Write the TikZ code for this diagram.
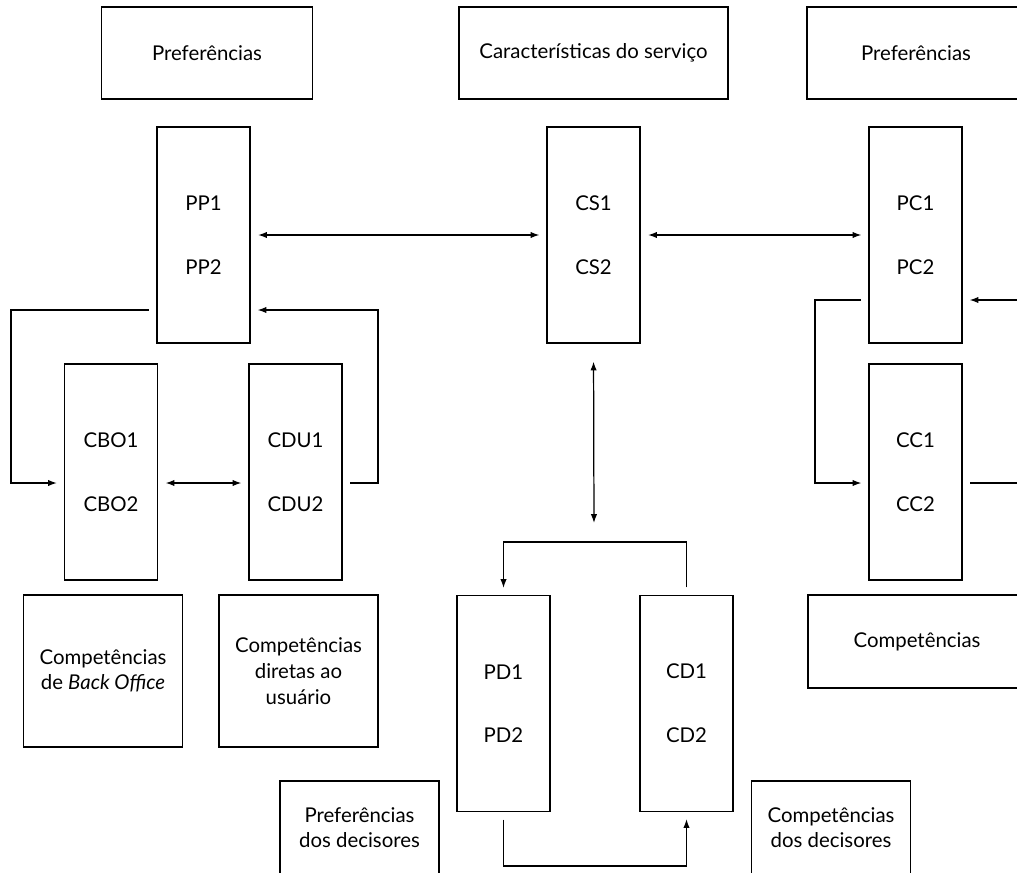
\documentclass[tikz,border=0pt]{standalone}
\usepackage{fontspec}
\setmainfont{Lato}
\usetikzlibrary{arrows.meta}

\begin{document}
\begin{tikzpicture}[x=0.02cm, y=-0.02cm, font=\fontsize{11.6}{14.6}\selectfont,
  box/.style={draw, line width=0.7pt, align=center, inner sep=0pt},
  topbox/.style={box, minimum height=1.84cm},
  tallbox/.style={box, minimum width=1.86cm, minimum height=4.32cm},
  sqbox/.style={box, minimum width=3.18cm, minimum height=3.04cm},
  lowbox/.style={box, minimum width=3.18cm, minimum height=1.86cm},
  link/.style={line width=0.7pt, shorten <=0.15cm, shorten >=0.14cm},
  arr/.style={link, -{Latex[length=5pt, width=3.6pt]}},
  darr/.style={link, {Latex[length=5pt, width=3.6pt]}-{Latex[length=5pt, width=3.6pt]}}]
\useasboundingbox (0,0) rectangle (1017,872);
\clip (0,0) rectangle (1017,872);
% ================= top row =================
\node[topbox, minimum width=4.22cm] (prefL) at (207,53) {Preferências};
\node[topbox, minimum width=5.38cm] (carac) at (593.5,53) {Características do serviço};
\node[topbox, minimum width=4.36cm] (prefR) at (916,53) {Preferências};
% ================= tall boxes =================
\node[tallbox] (pp) at (203.5,235) {PP1\\[0.76cm]PP2};
\node[tallbox] (cs) at (593.5,235) {CS1\\[0.76cm]CS2};
\node[tallbox] (pc) at (915.5,235) {PC1\\[0.76cm]PC2};
\node[tallbox] (cbo) at (111,472) {CBO1\\[0.76cm]CBO2};
\node[tallbox] (cdu) at (295.5,472) {CDU1\\[0.76cm]CDU2};
\node[tallbox] (cc) at (915.5,472) {CC1\\[0.76cm]CC2};
\node[tallbox] (pd) at (503.5,703.5) {PD1\\[0.76cm]PD2};
\node[tallbox] (cd) at (686.5,703.5) {CD1\\[0.76cm]CD2};
% ================= description boxes =================
\node[sqbox] (compBO) at (103,671) {Competências\\de \textit{Back Office}};
\node[sqbox] (compDU) at (298.5,671) {Competências\\diretas ao\\usuário};
\node[lowbox, minimum width=4.36cm] (compR) at (917,641.5) {Competências};
\node[lowbox] (prefDec) at (359.5,827.5) {Preferências\\dos decisores};
\node[lowbox] (compDec) at (831,827.5) {Competências\\dos decisores};
% levels and columns of the connectors
\coordinate (hiL) at (0,310);
\coordinate (hiR) at (0,300);
\coordinate (mid) at (0,483);
\coordinate (jn) at (0,542);
\coordinate (bt) at (0,866);
\coordinate (lc) at (11,0);
\coordinate (rc) at (378,0);
\coordinate (cr) at (815,0);
\coordinate (csFoot) at (594,530);
\coordinate (offHi) at (1030,300);
\coordinate (offMid) at (1030,483);
% ================= connectors =================
\draw[darr] (pp.east) -- (cs.west);
\draw[darr] (cs.east) -- (pc.west);
\draw[darr, shorten <=0.36cm] (cs.south) -- (csFoot);
\draw[arr] (pp.west |- hiL) -| (lc |- mid) -- (cbo.west |- mid);
\draw[darr] (cbo.east |- mid) -- (cdu.west |- mid);
\draw[arr] (cdu.east |- mid) -| (rc |- hiL) -- (pp.east |- hiL);
\draw[arr] (pc.west |- hiR) -| (cr |- mid) -- (cc.west |- mid);
\draw[arr] (offHi) -- (pc.east |- hiR);
\draw[link] (cc.east |- mid) -- (offMid);
\draw[arr] (cd.north) -- (cd.north |- jn) -| (pd.north);
\draw[arr] (pd.south) -- (pd.south |- bt) -| (cd.south);
\end{tikzpicture}
\end{document}
